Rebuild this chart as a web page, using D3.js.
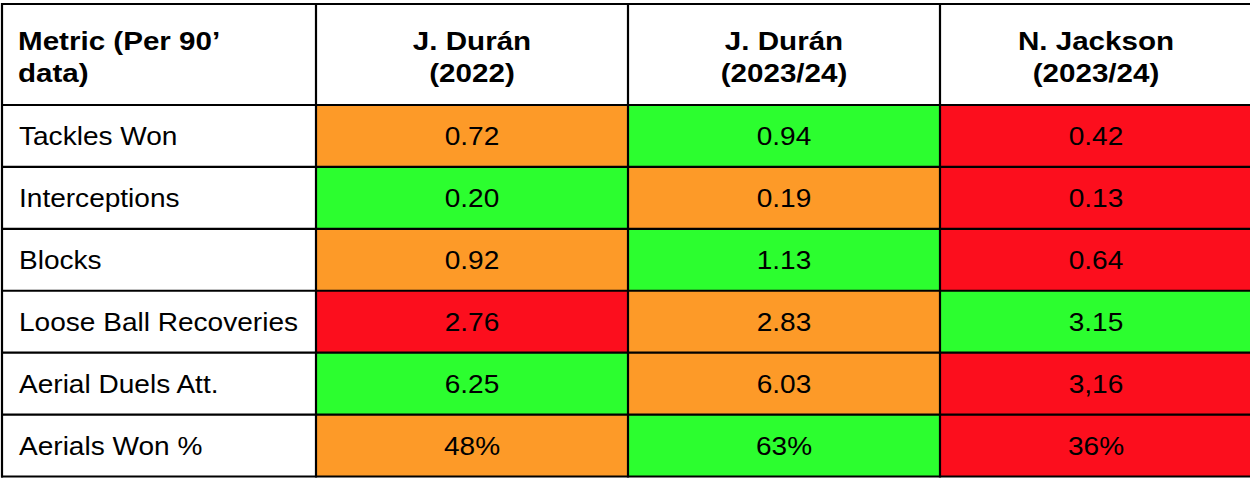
<!DOCTYPE html>
<html>
<head>
<meta charset="utf-8">
<script src="https://cdn.jsdelivr.net/npm/d3@7"></script>
<style>
  body { margin: 0; background: #fff; }
  svg { display: block; }
  text { font-family: Arial, "Liberation Sans", Helvetica, sans-serif; fill: #000; }
</style>
</head>
<body>
<svg id="chart" width="1250" height="478"></svg>
<script>
// table content
const headers = [
  ["Metric (Per 90\u2019", "data)"],
  ["J. Dur\u00e1n", "(2022)"],
  ["J. Dur\u00e1n", "(2023/24)"],
  ["N. Jackson", "(2023/24)"]
];
const metrics = [
  "Tackles Won",
  "Interceptions",
  "Blocks",
  "Loose Ball Recoveries",
  "Aerial Duels Att.",
  "Aerials Won %"
];
const duran2022 = ["0.72", "0.20", "0.92", "2.76", "6.25", "48%"];
const duran2324 = ["0.94", "0.19", "1.13", "2.83", "6.03", "63%"];
const jackson2324 = ["0.42", "0.13", "0.64", "3.15", "3,16", "36%"];
// how each cell was rated in the original sheet
const rating2022 = ["mid", "best", "mid", "worst", "best", "mid"];
const rating2324 = ["best", "mid", "best", "mid", "mid", "best"];
const ratingJackson = ["worst", "worst", "worst", "best", "worst", "worst"];

const columns = [duran2022, duran2324, jackson2324];
const ratings = [rating2022, rating2324, ratingJackson];

const color = d3.scaleOrdinal()
  .domain(["best", "mid", "worst"])
  .range(["#2cfe2f", "#fd9a28", "#fc0e1d"]);

const tLeft = 2, tRight = 1252, tTop = 4, headerBottom = 105, tBottom = 476.5;
const colEdges = [tLeft, 316, 628, 940, tRight];

const x = d3.scaleBand().domain(d3.range(3)).range([colEdges[1], tRight]);
const y = d3.scaleBand().domain(metrics).range([headerBottom, tBottom]);

const svg = d3.select("#chart");

// cell fills
const cells = [];
columns.forEach((col, ci) => {
  col.forEach((v, ri) => cells.push({ ci, ri, v, r: ratings[ci][ri] }));
});

svg.append("g")
  .selectAll("rect")
  .data(cells)
  .join("rect")
  .attr("x", d => x(d.ci))
  .attr("y", d => y(metrics[d.ri]))
  .attr("width", x.bandwidth())
  .attr("height", y.bandwidth())
  .attr("fill", d => color(d.r));

// header text
const fs = 25.5;
const sx = 1.1;

const hdr = svg.append("g");
headers.forEach((lines, i) => {
  const cx = i === 0 ? 18 : x(i - 1) + x.bandwidth() / 2;
  lines.forEach((t, li) => {
    hdr.append("text")
      .attr("transform", `translate(${cx},${50 + li * 32}) scale(1.16,1)`)
      .attr("text-anchor", i === 0 ? "start" : "middle")
      .attr("font-weight", "bold")
      .attr("font-size", fs)
      .text(t);
  });
});

// metric names
svg.append("g")
  .selectAll("text")
  .data(metrics)
  .join("text")
  .attr("transform", d => `translate(19,${y(d) + y.bandwidth() / 2 + 9.5}) scale(${sx},1)`)
  .attr("font-size", fs)
  .text(d => d);

// values
svg.append("g")
  .selectAll("text")
  .data(cells)
  .join("text")
  .attr("transform", d => `translate(${x(d.ci) + x.bandwidth() / 2},${y(metrics[d.ri]) + y.bandwidth() / 2 + 9.5}) scale(${sx},1)`)
  .attr("text-anchor", "middle")
  .attr("font-size", fs)
  .text(d => d.v);

// grid lines
const grid = svg.append("g").attr("stroke", "#000").attr("stroke-width", 2.2);
[tTop, headerBottom, ...metrics.map(m => y(m) + y.bandwidth())].forEach(yy => {
  grid.append("line").attr("x1", tLeft - 1).attr("x2", tRight).attr("y1", yy).attr("y2", yy);
});
colEdges.forEach(xx => {
  grid.append("line").attr("x1", xx).attr("x2", xx).attr("y1", tTop - 1).attr("y2", tBottom + 1);
});
</script>
</body>
</html>
